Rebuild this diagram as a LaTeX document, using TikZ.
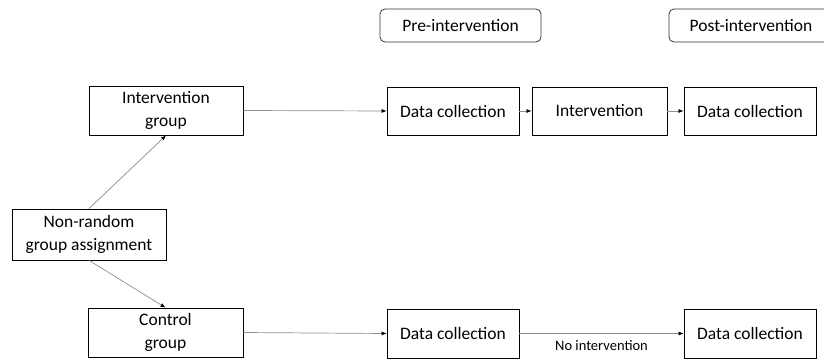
\documentclass[tikz,border=0pt]{standalone}
\usepackage{fontspec}
\setmainfont{Carlito}
\usetikzlibrary{arrows.meta}
\begin{document}
\begin{tikzpicture}[x=1pt,y=-1pt,
  box/.style={draw=black,line width=0.8pt,fill=white,align=center,inner sep=0pt,font=\fontsize{17.5}{22.5}\selectfont},
  phase/.style={draw=black!80,line width=0.8pt,rounded corners=5pt,inner sep=0pt,font=\fontsize{17.5}{20}\selectfont},
  conn/.style={draw=black!45,line width=0.7pt,-{Latex[length=5pt,width=4pt,color=black]}},
  lbl/.style={font=\fontsize{14.5}{17}\selectfont}]
\useasboundingbox (0,0) rectangle (824,361);
\clip (0,0) rectangle (824,361);
\node[phase,minimum width=161pt,minimum height=33pt] (pre) at (460.5,25.5) {Pre-intervention};
\node[phase,minimum width=164pt,minimum height=33pt] (post) at (751,25.5) {Post-intervention};
\node[box,minimum width=154pt,minimum height=49pt] (ig) at (166,110.5) {Intervention\\group};
\node[box,minimum width=154pt,minimum height=51pt] (nr) at (89,234.5) {Non-random\\group assignment};
\node[box,minimum width=155pt,minimum height=49pt] (cg) at (165.5,332.5) {Control\\group};
\node[box,minimum width=132pt,minimum height=48pt] (dc1) at (453,111) {Data collection};
\node[box,minimum width=135pt,minimum height=48pt] (int) at (599.5,111) {Intervention};
\node[box,minimum width=132pt,minimum height=48pt] (dc2) at (750,111) {Data collection};
\node[box,minimum width=132pt,minimum height=49pt] (dc3) at (453,333.5) {Data collection};
\node[box,minimum width=132pt,minimum height=49pt] (dc4) at (750,333.5) {Data collection};
\draw[conn] (nr.north) -- (ig.south);
\draw[conn] (nr.south) -- (cg.north);
\draw[conn] (ig.east) -- (dc1.west);
\draw[conn] (dc1.east) -- (int.west);
\draw[conn] (int.east) -- (dc2.west);
\draw[conn] (cg.east) -- (dc3.west);
\draw[conn] (dc3.east) -- node[lbl,below=3pt] {No intervention} (dc4.west);
\end{tikzpicture}
\end{document}
